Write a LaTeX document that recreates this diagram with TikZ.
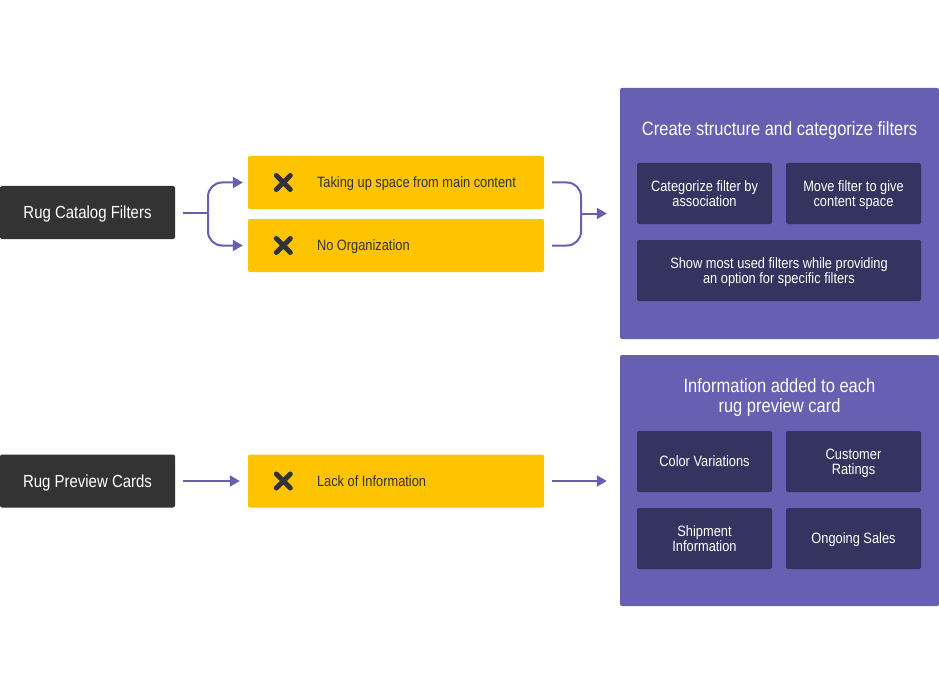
\documentclass[tikz,border=0pt]{standalone}
\usepackage{fontspec}
\setmainfont{Liberation Sans}[FakeStretch=0.855]
\usetikzlibrary{arrows.meta,positioning}
\definecolor{ink}{RGB}{51,51,51}
\definecolor{amber}{RGB}{255,196,0}
\definecolor{violet}{RGB}{101,96,178}
\definecolor{night}{RGB}{53,51,95}
\tikzstyle{sourcebox}=[fill=ink,text=white,rounded corners=2pt,minimum width=175pt,minimum height=53pt,inner sep=0pt,text height=12.5pt,text depth=0pt,font=\fontsize{17.5}{20}\selectfont]
\tikzstyle{issuebox}=[fill=amber,rounded corners=2pt,minimum width=296pt,minimum height=53pt,inner sep=0pt]
\tikzstyle{issuetext}=[text=ink,inner sep=0pt,text height=10.7pt,text depth=0pt,font=\fontsize{15}{16}\selectfont]
\tikzstyle{goalbox}=[fill=violet,rounded corners=2pt,minimum width=319pt,minimum height=251pt,inner sep=0pt]
\tikzstyle{goaltitle}=[text=white,align=center,inner sep=0pt,text height=13.8pt,text depth=0pt,font=\fontsize{19.3}{20}\selectfont]
\tikzstyle{goaltitle2}=[goaltitle,text height=33.8pt]
\tikzstyle{ideabox}=[fill=night,text=white,align=center,rounded corners=2pt,minimum width=135pt,minimum height=61pt,inner sep=0pt,text height=10.7pt,text depth=0pt,font=\fontsize{15}{15}\selectfont]
\tikzstyle{ideabox2}=[ideabox,text height=25.7pt]
\tikzstyle{cross}=[draw=ink,line width=5pt,line cap=round]

\begin{document}
\begin{tikzpicture}[x=1pt,y=-1pt,
link/.style={draw=violet,line width=2pt},
flow/.style={link,-{Triangle[length=10pt,width=11pt]}}]
\fill[white] (0,0) rectangle (939,695);
\useasboundingbox (0,0) rectangle (939,695);
% sources
\node[sourcebox] (catalog) at (87.5,212.5) {Rug Catalog Filters};
\node[sourcebox] (cards) at (87.5,481) {Rug Preview Cards};
% problems
\node[issuebox] (space) at (396,182.5) {};
\node[issuebox] (order) at (396,245.5) {};
\node[issuebox] (lack) at (396,481) {};
\node[issuetext, right=69pt of space.west] (spacetext) {Taking up space from main content};
\node[issuetext, right=69pt of order.west] (ordertext) {No Organization};
\node[issuetext, right=69pt of lack.west] (lacktext) {Lack of Information};
\foreach \issue in {space,order,lack}
    \draw[cross] ([xshift=35.5pt]\issue.west) +(-7,-7) -- +(7,7) +(-7,7) -- +(7,-7);
% goals
\node[goalbox] (structure) at (779.5,213.5) {};
\node[goaltitle] (structuretitle) at (779.5,129) {Create structure and categorize filters};
\node[ideabox2] (assoc) at (704.5,193.5) {Categorize filter by\\association};
\node[ideabox2] (move) at (853.5,193.5) {Move filter to give\\content space};
\node[ideabox2,minimum width=284pt] (used) at (779,270.5) {Show most used filters while providing\\an option for specific filters};
\node[goalbox] (info) at (779.5,480.5) {};
\node[goaltitle2] (infotitle) at (779.5,396) {Information added to each\\rug preview card};
\node[ideabox] (colors) at (704.5,461.5) {Color Variations};
\node[ideabox2] (ratings) at (853.5,461.5) {Customer\\Ratings};
\node[ideabox2] (shipment) at (704.5,538.5) {Shipment\\Information};
\node[ideabox] (sales) at (853.5,538.5) {Ongoing Sales};
% connectors
\coordinate (split) at (208,212.5);
\coordinate (merge) at (581,213.5);
\draw[link,shorten <=8pt] (catalog) -- (split);
\draw[flow,rounded corners=14pt,shorten >=5pt] (split) |- (space);
\draw[flow,rounded corners=14pt,shorten >=5pt] (split) |- (order);
\draw[link,rounded corners=14pt,shorten <=8pt] (space) -| (merge);
\draw[link,rounded corners=14pt,shorten <=8pt] (order) -| (merge);
\draw[flow,shorten >=13pt] (merge) -- (structure);
\draw[flow,shorten <=8pt,shorten >=8pt] (cards) -- (lack);
\draw[flow,shorten <=8pt,shorten >=13pt] (lack) -- (info.west |- lack);
\end{tikzpicture}
\end{document}
